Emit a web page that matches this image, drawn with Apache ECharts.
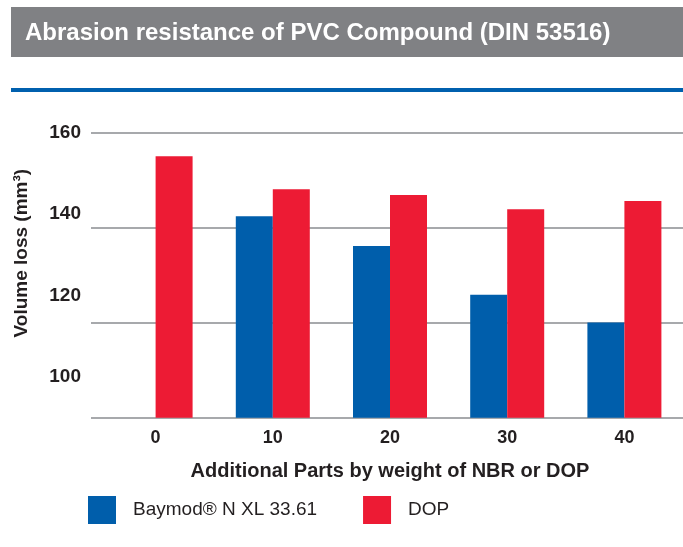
<!DOCTYPE html>
<html>
<head>
<meta charset="utf-8">
<script src="https://cdn.jsdelivr.net/npm/echarts@6/dist/echarts.min.js"></script>
<style>
  html, body { margin: 0; padding: 0; background: #fff; }
  #chart { width: 683px; height: 547px; }
</style>
</head>
<body>
<div id="chart"></div>
<script>
// data
const categories = ["0", "10", "20", "30", "40"];
const baymod = [null, 139.5, 132.2, 120.2, 113.4];
const dop = [154.2, 146.1, 144.7, 141.2, 143.2];
const yLabels = [100, 120, 140, 160];

const chartDom = document.getElementById("chart");
const myChart = echarts.init(chartDom);
const font = "'Liberation Sans', Arial, sans-serif";
const dark = "#231f20";

const option = {
	animation: false,
	textStyle: { fontFamily: font },
	title: {
		text: "Abrasion resistance of PVC Compound (DIN 53516)",
		left: 25,
		top: 21,
		padding: 0,
		textStyle: { color: "#fff", fontSize: 24, fontWeight: "bold", fontFamily: font },
	},
	graphic: [
		{ type: "rect", z: -1, shape: { x: 11, y: 7, width: 672, height: 50 }, style: { fill: "#808184" } },
		{ type: "rect", shape: { x: 11, y: 88, width: 672, height: 4 }, style: { fill: "#0060ae" } },
	],
	legend: {
		left: 88,
		top: 496,
		padding: 0,
		icon: "rect",
		itemWidth: 28,
		itemHeight: 28,
		itemGap: 46,
		textStyle: { fontSize: 19, color: dark, fontFamily: font, padding: [0, 0, 0, 12] },
		data: ["Baymod® N XL 33.61", "DOP"],
	},
	grid: [
		{ left: 97, right: 0, top: 132.7, bottom: 129.3, containLabel: false },
		{ left: 91, right: 0, top: 132.7, bottom: 129.3, containLabel: false },
	],
	xAxis: [
		{
			type: "category",
			data: categories,
			gridIndex: 0,
			axisLine: { show: false },
			axisTick: { show: false },
			axisLabel: { margin: 11, fontSize: 18, fontWeight: "bold", color: dark },
			name: "Additional Parts by weight of NBR or DOP",
			nameLocation: "middle",
			nameGap: 44,
			nameTextStyle: { fontSize: 20, fontWeight: "bold", color: dark },
		},
		{
			type: "category",
			data: categories,
			gridIndex: 1,
			show: false,
		},
	],
	yAxis: [
		{
			// axis carrying the values and the tick labels
			type: "value",
			gridIndex: 0,
			min: 90,
			max: 160,
			interval: 10,
			axisLine: { show: false },
			axisTick: { show: false },
			splitLine: { show: false },
			axisLabel: {
				margin: 16,
				fontSize: 19,
				fontWeight: "bold",
				color: dark,
				formatter: (v) => (yLabels.includes(v) ? String(v) : ""),
			},
			name: "Volume loss (mm³)",
			nameLocation: "middle",
			nameGap: 66,
			nameTextStyle: { fontSize: 19, fontWeight: "bold", color: dark, padding: [0, 0, 0, 44] },
		},
		{
			// gridlines only
			type: "value",
			gridIndex: 1,
			min: 100,
			max: 160,
			interval: 20,
			axisLine: { show: false },
			axisTick: { show: false },
			axisLabel: { show: false },
			splitLine: { show: true, lineStyle: { color: "#a7a9ac", width: 2 } },
		},
	],
	series: [
		{
			name: "Baymod® N XL 33.61",
			type: "bar",
			data: baymod,
			barWidth: 37,
			barGap: "0%",
			itemStyle: { color: "#005eab" },
		},
		{
			name: "DOP",
			type: "bar",
			data: dop,
			barWidth: 37,
			barGap: "0%",
			itemStyle: { color: "#ed1b34" },
		},
	],
};

myChart.setOption(option);
</script>
</body>
</html>
